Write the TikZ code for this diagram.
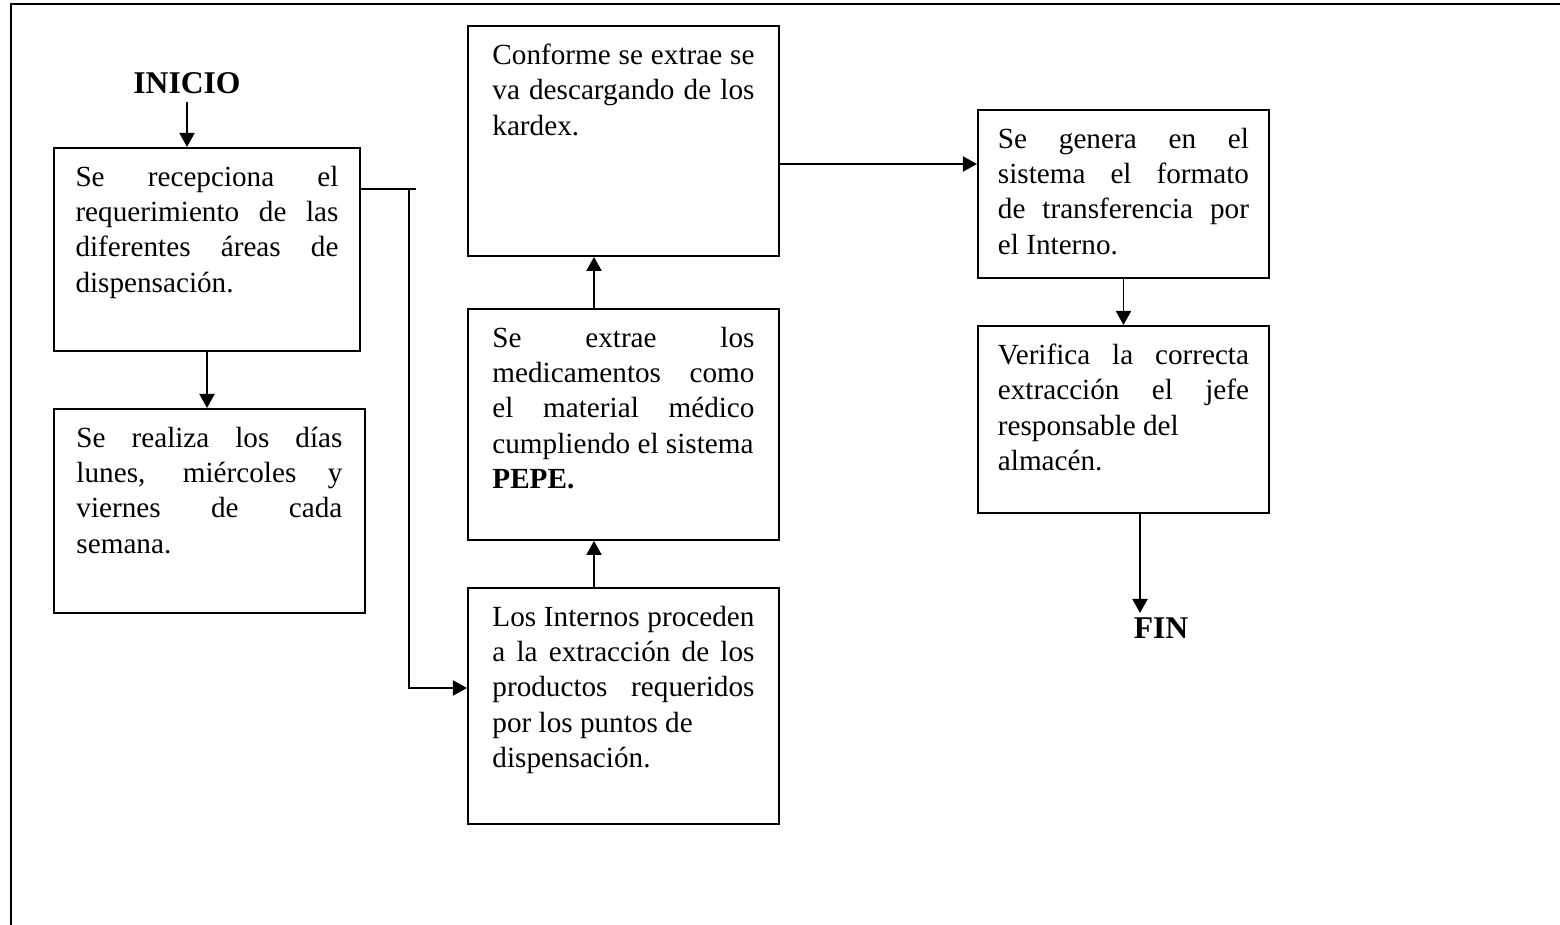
\documentclass[tikz,border=0pt]{standalone}
\usepackage{fontspec}
\setmainfont{Liberation Serif}
\usetikzlibrary{arrows.meta}
\tolerance=9999
\hbadness=10000
\vbadness=10000

\begin{document}
\begin{tikzpicture}[x=0.411pt, y=-0.411pt,
	caja/.style={draw, line width=0.8pt, anchor=north west, minimum width=127.8pt, inner xsep=0pt, inner ysep=7.4pt, font=\fontsize{12}{14.5}\selectfont},
	titulo/.style={font=\bfseries\fontsize{13}{15}\selectfont},
	flecha/.style={line width=0.8pt, -{Triangle[length=5.8pt, width=6.2pt]}}]
	\useasboundingbox (0,0) rectangle (1560,925);
	% Frame
	\draw[line width=1.2pt] (1560,4) -- (11,4) -- (11,925);
	
	% Nodes
	\node[titulo] (inicio) at (187,83) {INICIO};
	\node[caja, minimum width=125.8pt] (1) at (53,147) {\parbox[t][68.6pt][t]{108.1pt}{Se recepciona el\linebreak requerimiento de las\linebreak diferentes áreas de\linebreak dispensación.}};
	\node[caja] (2) at (53,408) {\parbox[t][69pt][t]{109.3pt}{Se realiza los días\linebreak lunes, miércoles y\linebreak viernes de cada\linebreak semana.}};
	\node[caja] (3) at (467,25) {\parbox[t][79.7pt][t]{107.7pt}{Conforme se extrae se\linebreak va descargando de los\linebreak kardex.}};
	\node[caja] (4) at (467,308) {\parbox[t][80.1pt][t]{107.7pt}{Se extrae los\linebreak medicamentos como\linebreak el material médico\linebreak cumpliendo el sistema\\ \textbf{PEPE.}}};
	\node[caja] (5) at (467,587) {\parbox[t][82.2pt][t]{107.7pt}{Los Internos proceden\linebreak a la extracción de los\linebreak productos requeridos\linebreak por los puntos de\\ dispensación.}};
	\node[caja, minimum width=119.6pt] (6) at (977,109) {\parbox[t][54.3pt][t]{103.2pt}{Se genera en el\linebreak sistema el formato\linebreak de transferencia por\linebreak el Interno.}};
	\node[caja, minimum width=119.6pt] (7) at (977,325) {\parbox[t][62.1pt][t]{103.2pt}{Verifica la correcta\linebreak extracción el jefe\linebreak responsable del\\ almacén.}};
	\node[titulo] (fin) at (1161,628) {FIN};
	
	% Bends of the connectors
	\coordinate (a) at (409,189);
	\coordinate (b) at (416,189);
	\coordinate (c) at (409,688);
	\coordinate (d) at (594,0);
	\coordinate (e) at (0,164);
	\coordinate (f) at (1140,613);
	
	% Edges
	\draw[flecha] (inicio.south) -- (inicio.south |- 1.north);
	\draw[flecha] (1.south) -- (1.south |- 2.north);
	\draw[line width=0.8pt] (1.east |- b) -- (b);
	\draw[flecha] (a) -- (c) -- (5.west |- c);
	\draw[flecha] (5.north -| d) -- (4.south -| d);
	\draw[flecha] (4.north -| d) -- (3.south -| d);
	\draw[flecha] (3.east |- e) -- (6.west |- e);
	\draw[flecha] (6.south) -- (6.south |- 7.north);
	\draw[flecha] (7.south -| f) -- (f);
\end{tikzpicture}
\end{document}
